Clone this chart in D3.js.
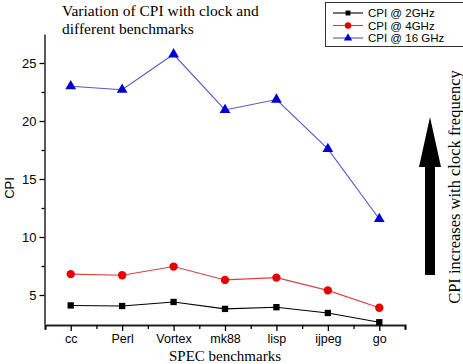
<!DOCTYPE html>
<html>
<head>
  <script src="https://cdn.jsdelivr.net/npm/d3@7"></script>
  <style>
    body { margin: 0; background: #fff; }
  </style>
</head>
<body>
  <svg width="463" height="364" id="mainsvg"></svg>
  <script>
    // data
    const benchmarks = ['cc', 'Perl', 'Vortex', 'mk88', 'lisp', 'ijpeg', 'go'];
    const cpi2 = [4.1, 4.05, 4.4, 3.8, 3.95, 3.45, 2.65];
    const cpi4 = [6.8, 6.7, 7.45, 6.3, 6.5, 5.4, 3.9];
    const cpi16 = [23.0, 22.7, 25.75, 20.95, 21.85, 17.6, 11.55];
    const yTicks = [5, 10, 15, 20, 25];
    const seriesNames = ['CPI @ 2GHz', 'CPI @ 4GHz', 'CPI @ 16 GHz'];

    const svg = d3.select('#mainsvg');
    const sans = 'Liberation Sans, Arial, sans-serif';
    const serif = 'Liberation Serif, Times New Roman, serif';

    const xScale = d3.scaleLinear().domain([-0.5, 6.5]).range([45, 405]);
    const yScale = d3.scaleLinear().domain([2.5, 27.5]).range([324, 34]);

    const series = [
      { name: seriesNames[0], values: cpi2, line: '#000000', fill: '#000000', shape: d3.symbolSquare, size: 40 },
      { name: seriesNames[1], values: cpi4, line: '#d84040', fill: '#e80000', shape: d3.symbolCircle, size: 55 },
      { name: seriesNames[2], values: cpi16, line: '#5555cc', fill: '#0000d0', shape: d3.symbolTriangle, size: 50 }
    ];

    // axes
    const xAxis = d3.axisBottom(xScale)
      .tickValues(d3.range(-0.5, 6.51, 0.5))
      .tickSize(5)
      .tickFormat(d => Number.isInteger(d) ? benchmarks[d] : '');
    const xg = svg.append('g').attr('transform', 'translate(0,325)').call(xAxis);
    xg.select('.domain').attr('stroke-width', 2).attr('stroke', '#222');
    xg.selectAll('.tick line').attr('y2', d => Number.isInteger(d) ? 6 : 4).attr('stroke-width', 1.3);
    xg.selectAll('.tick text').attr('font-family', sans).attr('font-size', 12.5).attr('dy', '0.71em').attr('y', 9);

    const yAxis = d3.axisLeft(yScale)
      .tickValues(d3.range(5, 27.5, 2.5))
      .tickSizeOuter(0)
      .tickFormat(d => yTicks.includes(d) ? d : '');
    const yg = svg.append('g').attr('transform', 'translate(44.5,0)').call(yAxis);
    yg.select('.domain').attr('stroke-width', 1.5).attr('stroke', '#222');
    yg.selectAll('.tick line').attr('x2', d => yTicks.includes(d) ? -5 : -3).attr('stroke-width', 1.3);
    yg.selectAll('.tick text').attr('font-family', sans).attr('font-size', 13).attr('x', -8);

    // lines and markers
    const line = d3.line().x((d, i) => xScale(i)).y(d => yScale(d));
    series.forEach(s => {
      svg.append('path').datum(s.values)
        .attr('fill', 'none').attr('stroke', s.line).attr('stroke-width', 1.1)
        .attr('d', line);
      svg.selectAll(null).data(s.values).enter().append('path')
        .attr('d', d3.symbol().type(s.shape).size(s.size))
        .attr('transform', (d, i) => `translate(${xScale(i)},${yScale(d)})`)
        .attr('fill', s.fill);
    });

    // title
    const title = svg.append('text').attr('font-family', serif).attr('font-size', 15.5).attr('fill', '#000');
    title.append('tspan').attr('x', 62).attr('y', 16).text('Variation of CPI with clock and');
    title.append('tspan').attr('x', 62).attr('y', 34).text('different benchmarks');

    // axis titles
    svg.append('text').text('CPI').attr('font-family', sans).attr('font-size', 13)
      .attr('text-anchor', 'middle').attr('transform', 'translate(14,188) rotate(-90)');
    svg.append('text').text('SPEC benchmarks').attr('font-family', serif).attr('font-size', 15)
      .attr('text-anchor', 'middle').attr('x', 225).attr('y', 361);

    // legend
    const legend = svg.append('g');
    legend.append('rect').attr('x', 325.5).attr('y', 2.5).attr('width', 140).attr('height', 44)
      .attr('fill', '#fff').attr('stroke', '#333').attr('stroke-width', 1);
    series.forEach((s, i) => {
      const y = 13 + i * 12.5;
      legend.append('line').attr('x1', 333).attr('x2', 363).attr('y1', y).attr('y2', y)
        .attr('stroke', s.line).attr('stroke-width', 1.1);
      legend.append('path').attr('d', d3.symbol().type(s.shape).size(s.size * 0.6))
        .attr('transform', `translate(348,${y})`).attr('fill', s.fill);
      legend.append('text').text(s.name).attr('x', 368).attr('y', y).attr('dy', '0.35em')
        .attr('font-family', sans).attr('font-size', 11.5);
    });

    // arrow
    svg.append('path')
      .attr('d', 'M425,275 L435,275 L435,167 L441,167 L430,117 L419,167 L425,167 Z')
      .attr('fill', '#000');
    svg.append('text').text('CPI increases with clock frequency')
      .attr('font-family', serif).attr('font-size', 16.5)
      .attr('text-anchor', 'middle').attr('transform', 'translate(460,187) rotate(-90)');
  </script>
</body>
</html>
